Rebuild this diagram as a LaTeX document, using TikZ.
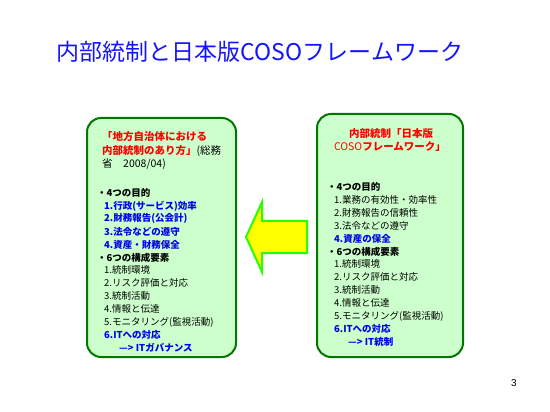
\documentclass[tikz,border=0pt]{standalone}
\usepackage{fontspec}
\setmainfont{Noto Sans CJK JP}
\newfontfamily\numfont{Liberation Sans}
\definecolor{titleblue}{RGB}{20,20,255}
\definecolor{txtblue}{RGB}{0,0,235}
\definecolor{txtred}{RGB}{255,0,0}
\definecolor{boxfill}{RGB}{204,255,204}
\definecolor{boxline}{RGB}{0,120,0}
\definecolor{arrowline}{RGB}{40,255,0}
\definecolor{arrowfill}{RGB}{255,255,0}
\tikzset{
  panel/.style={draw=boxline, line width=2pt, fill=boxfill, rounded corners=14pt},
  txt/.style={anchor=west, inner sep=0pt, font=\fontsize{9.5}{10}\selectfont},
  head/.style={txt, font=\fontsize{10.5}{11}\selectfont\bfseries},
  bluet/.style={txt, text=txtblue, font=\fontsize{9.5}{10}\selectfont\bfseries},
  blackb/.style={txt, font=\fontsize{9.5}{10}\selectfont\bfseries},
  bigarrow/.style={draw=arrowline, line width=2pt, fill=arrowfill, line join=miter}
}
\begin{document}
\begin{tikzpicture}[x=1pt,y=-1pt]
\useasboundingbox (0,0) rectangle (550,412);
% title
\node[inner sep=0pt, text=titleblue, font=\fontsize{23}{25}\selectfont] (title) at (260,52) {内部統制と日本版COSOフレームワーク};
% boxes
\draw[panel] (87,118) rectangle (236,357);
\draw[panel] (317,114) rectangle (463,357);
% arrow
\draw[bigarrow] (246,237) -- (262,202) -- (262,221) -- (307,221) -- (307,253) -- (262,253) -- (262,272) -- cycle;
% left header
\node[head, text=txtred] (lh1) at (102,137) {「地方自治体における};
\node[txt, font=\fontsize{10.5}{11}\selectfont] (lh2) at (102,151) {{\color{txtred}\bfseries 内部統制のあり方」}(総務};
\node[txt, font=\fontsize{10.5}{11}\selectfont] (lh3) at (102,164) {省　2008/04)};
% left body
\node[blackb] (l1) at (97,193) {・4つの目的};
\node[bluet] (l2) at (104,205.9) {1.行政(サービス)効率};
\node[bluet] (l3) at (104,218.8) {2.財務報告(公会計)};
\node[bluet] (l4) at (104,231.7) {3.法令などの遵守};
\node[bluet] (l5) at (104,244.6) {4.資産・財務保全};
\node[blackb] (l6) at (97,257.5) {・6つの構成要素};
\node[txt] (l7) at (104,270.4) {1.統制環境};
\node[txt] (l8) at (104,283.3) {2.リスク評価と対応};
\node[txt] (l9) at (104,296.2) {3.統制活動};
\node[txt] (l10) at (104,309.1) {4.情報と伝達};
\node[txt] (l11) at (104,322) {5.モニタリング(監視活動)};
\node[bluet] (l12) at (104,334.9) {6.ITへの対応};
\node[bluet] (l13) at (119,347.8) {—> ITガバナンス};
% right header
\node[head, anchor=center, text=txtred] (rh1) at (391,134) {内部統制「日本版};
\node[anchor=center, inner sep=0pt, text=txtred, font=\fontsize{10.5}{11}\selectfont] (rh2) at (390,147) {COSO{\bfseries フレームワーク」}};
% right body
\node[blackb] (r1) at (327,187) {・4つの目的};
\node[txt] (r2) at (334,199.9) {1.業務の有効性・効率性};
\node[txt] (r3) at (334,212.8) {2.財務報告の信頼性};
\node[txt] (r4) at (334,225.7) {3.法令などの遵守};
\node[bluet] (r5) at (334,238.6) {4.資産の保全};
\node[blackb] (r6) at (327,251.5) {・6つの構成要素};
\node[txt] (r7) at (334,264.4) {1.統制環境};
\node[txt] (r8) at (334,277.3) {2.リスク評価と対応};
\node[txt] (r9) at (334,290.2) {3.統制活動};
\node[txt] (r10) at (334,303.1) {4.情報と伝達};
\node[txt] (r11) at (334,316) {5.モニタリング(監視活動)};
\node[bluet] (r12) at (334,328.9) {6.ITへの対応};
\node[bluet] (r13) at (348,341.8) {—> IT統制};
% page number
\node[inner sep=0pt, font=\numfont\fontsize{10}{11}\selectfont] (pg) at (514,383) {3};
\end{tikzpicture}
\end{document}
